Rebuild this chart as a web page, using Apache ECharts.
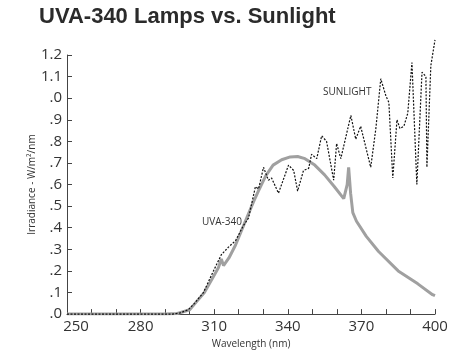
<!DOCTYPE html>
<html>
<head>
<meta charset="utf-8">
<title>UVA-340 Lamps vs. Sunlight</title>
<script src="https://cdn.jsdelivr.net/npm/echarts@6/dist/echarts.min.js"></script>
<style>
  html, body { margin: 0; padding: 0; background: #fff; }
  #chart { width: 463px; height: 354px; }
</style>
</head>
<body>
<div id="chart"></div>
<script>
// wavelength (nm) / irradiance (W/m2/nm)
var uvaNm = [250, 290, 295, 300, 303, 306, 309, 311.7, 312.9, 313.8, 316, 318.7, 322.7, 326, 328, 331, 334, 337.5, 341, 344, 347, 351, 355, 359, 362.8, 364.2, 364.8, 365.6, 366.5, 368, 372, 377, 385, 393, 399, 400]
var uvaVal = [0, 0, 0.003, 0.02, 0.06, 0.1, 0.16, 0.215, 0.255, 0.225, 0.26, 0.32, 0.43, 0.52, 0.57, 0.64, 0.69, 0.715, 0.728, 0.73, 0.72, 0.69, 0.645, 0.59, 0.535, 0.6, 0.68, 0.56, 0.47, 0.43, 0.36, 0.29, 0.2, 0.14, 0.09, 0.085]

var sunNm = [250, 293, 296, 299.4, 302, 305.6, 309.7, 312.9, 315.8, 318.7, 321.9, 324, 326.8, 328.1, 330.1, 332.1, 333.4, 336.2, 340.3, 342.4, 344, 346.4, 348.5, 349.7, 351.8, 353.8, 355.8, 358.7, 359.9, 361.6, 365.7, 367.7, 369.7, 373.8, 375.9, 377.9, 380, 381.2, 382.8, 384.5, 385.7, 387.3, 388.9, 390.6, 392.6, 394.7, 396.3, 396.7, 398.3, 400]
var sunVal = [0, 0, 0.005, 0.02, 0.05, 0.1, 0.2, 0.275, 0.31, 0.34, 0.41, 0.445, 0.59, 0.58, 0.68, 0.62, 0.63, 0.56, 0.69, 0.665, 0.57, 0.665, 0.675, 0.74, 0.72, 0.826, 0.8, 0.62, 0.79, 0.72, 0.92, 0.81, 0.87, 0.68, 0.86, 1.09, 1.01, 0.98, 0.63, 0.9, 0.86, 0.87, 0.93, 1.165, 0.6, 1.12, 1.1, 0.68, 1.15, 1.27]

var xTicks = [250, 280, 310, 340, 370, 400]
var yTickLabels = ['.0', '.1', '.2', '.3', '.4', '.5', '.6', '.7', '.8', '.9', '.0', '1.1', '1.2']

function pairs(xs, ys) {
  return xs.map(function(x, i) { return [x, ys[i]] })
}

var chart = echarts.init(document.getElementById('chart'))
var axisFont = 'Open Sans, sans-serif'

chart.setOption({
  animation: false,
  title: {
    text: 'UVA-340 Lamps vs. Sunlight',
    left: 34,
    top: 1,
    textStyle: {
      fontFamily: 'Liberation Sans, Arial, sans-serif',
      fontSize: 22,
      fontWeight: 'bold',
      color: '#2b2b2b'
    }
  },
  grid: {
    left: 67,
    right: 28,
    top: 55,
    bottom: 38
  },
  xAxis: {
    type: 'value',
    min: 250,
    max: 400,
    interval: 10,
    name: 'Wavelength (nm)',
    nameLocation: 'middle',
    nameGap: 24,
    nameTextStyle: { fontFamily: axisFont, fontSize: 10, color: '#333' },
    splitLine: { show: false },
    axisLine: { lineStyle: { color: '#444', width: 1 } },
    axisTick: { inside: true, length: 5, lineStyle: { color: '#444' } },
    axisLabel: {
      margin: 5,
      fontFamily: axisFont,
      fontSize: 15,
      color: '#333',
      showMinLabel: true,
      showMaxLabel: true,
      formatter: function(v) {
        if (xTicks.indexOf(v) < 0) return ''
        if (v === 250) return '{first|250}'
        return String(v)
      },
      rich: {
        first: { fontFamily: axisFont, fontSize: 15, color: '#333', padding: [0, 0, 0, 18] }
      }
    }
  },
  yAxis: {
    type: 'value',
    min: 0,
    max: 1.2,
    interval: 0.1,
    name: 'Irradiance - W/m²/nm',
    nameLocation: 'middle',
    nameGap: 30,
    nameMoveOverlap: false,
    nameTextStyle: { fontFamily: axisFont, fontSize: 10, color: '#333' },
    splitLine: { show: false },
    axisLine: { show: true, lineStyle: { color: '#444', width: 1 } },
    axisTick: { show: true, inside: true, length: 5, lineStyle: { color: '#444' } },
    axisLabel: {
      margin: 5,
      fontFamily: axisFont,
      fontSize: 15,
      color: '#333',
      formatter: function(v) {
        return yTickLabels[Math.round(v * 10)]
      }
    }
  },
  graphic: [
    {
      type: 'text',
      left: 323,
      top: 87,
      style: { text: 'SUNLIGHT', fontFamily: axisFont, fontSize: 10, fill: '#333' }
    },
    {
      type: 'text',
      left: 202,
      top: 217,
      style: { text: 'UVA-340', fontFamily: axisFont, fontSize: 10, fill: '#333' }
    }
  ],
  series: [
    {
      name: 'UVA-340',
      type: 'line',
      showSymbol: false,
      data: pairs(uvaNm, uvaVal),
      lineStyle: { color: '#a0a0a0', width: 3 },
      z: 2
    },
    {
      name: 'Sunlight',
      type: 'line',
      showSymbol: false,
      clip: false,
      data: pairs(sunNm, sunVal),
      lineStyle: { color: '#111', width: 1.2, type: [2, 1.5] },
      z: 3
    }
  ]
})
</script>
</body>
</html>
